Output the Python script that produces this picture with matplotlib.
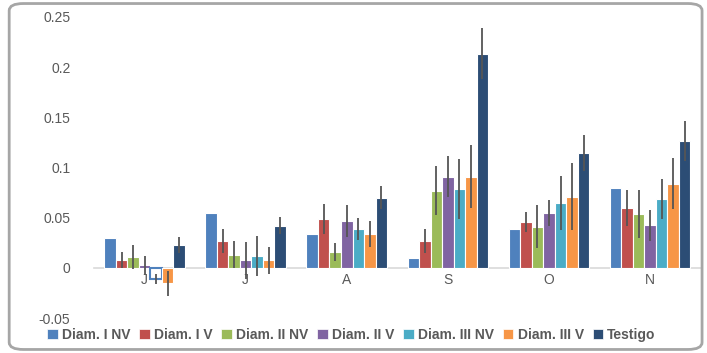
import numpy as np
import matplotlib.pyplot as plt
from matplotlib.patches import FancyBboxPatch, Patch

# months (category axis)
months = ['J', 'J', 'A', 'S', 'O', 'N']

series_names = ['Diam. I NV', 'Diam. I V', 'Diam. II NV', 'Diam. II V',
                'Diam. III NV', 'Diam. III V', 'Testigo']
colors = ['#4F81BD', '#C0504D', '#9BBB59', '#8064A2', '#4BACC6', '#F79646', '#2C4D75']

# values, one list per series
diam_i_nv = [0.030, 0.055, 0.034, 0.0095, 0.039, 0.0795]
diam_i_v = [0.0075, 0.027, 0.0486, 0.027, 0.046, 0.060]
diam_ii_nv = [0.011, 0.013, 0.0154, 0.077, 0.041, 0.0536]
diam_ii_v = [0.003, 0.0075, 0.0466, 0.091, 0.0546, 0.0423]
diam_iii_nv = [-0.011, 0.012, 0.039, 0.0785, 0.065, 0.069]
diam_iii_v = [-0.0155, 0.0075, 0.034, 0.091, 0.071, 0.0838]
testigo = [0.0224, 0.042, 0.070, 0.2133, 0.1147, 0.126]

# error bars (Diam. I NV has none)
err_i_nv = None
err_i_v = [0.008, 0.0118, 0.0153, 0.012, 0.010, 0.018]
err_ii_nv = [0.012, 0.0134, 0.009, 0.0243, 0.0214, 0.0236]
err_ii_v = [0.009, 0.0186, 0.016, 0.0204, 0.013, 0.0154]
err_iii_nv = [0.005, 0.020, 0.011, 0.030, 0.027, 0.020]
err_iii_v = [0.0128, 0.0136, 0.013, 0.0317, 0.033, 0.0254]
err_testigo = [0.008, 0.0083, 0.0118, 0.0256, 0.0178, 0.020]

values = [diam_i_nv, diam_i_v, diam_ii_nv, diam_ii_v, diam_iii_nv, diam_iii_v, testigo]
errors = [err_i_nv, err_i_v, err_ii_nv, err_ii_v, err_iii_nv, err_iii_v, err_testigo]

plt.rcParams['font.family'] = ['Liberation Sans', 'DejaVu Sans']
grey = '#595959'

fig = plt.figure(figsize=(7.07, 3.53), dpi=100)
ax = fig.add_axes([0.133, 0.099, 0.858, 0.853])

x = np.arange(len(months))
w = 0.114
for k, (vals, errs) in enumerate(zip(values, errors)):
    pos = x + (k - 3) * w
    bars = ax.bar(pos, vals, width=w, color=colors[k], edgecolor='white',
                  linewidth=0.8, zorder=2)
    # Excel "invert if negative" on Diam. III NV
    if k == 4:
        for b, v in zip(bars, vals):
            if v < 0:
                b.set_facecolor('white')
                b.set_edgecolor(colors[0])
                b.set_linewidth(1.5)
    if errs is not None:
        ax.errorbar(pos, vals, yerr=errs, fmt='none', ecolor='#555555',
                    elinewidth=1.3, capsize=0, zorder=3)

ax.set_xlim(-0.5, 5.5)
ax.set_ylim(-0.05, 0.25)
ax.set_yticks([-0.05, 0, 0.05, 0.1, 0.15, 0.2, 0.25])
ax.set_yticklabels(['-0.05', '0', '0.05', '0.1', '0.15', '0.2', '0.25'])
ax.set_xticks(x)
ax.set_xticklabels(months)

for s in ['left', 'right', 'top']:
    ax.spines[s].set_visible(False)
ax.spines['bottom'].set_position(('data', 0))
ax.spines['bottom'].set_color('#D9D9D9')
ax.spines['bottom'].set_linewidth(1.2)
ax.spines['bottom'].set_zorder(1)
ax.tick_params(axis='y', length=0, pad=17, labelsize=10, labelcolor=grey)
ax.tick_params(axis='x', length=0, pad=4, labelsize=10, labelcolor=grey)

handles = [Patch(facecolor=c, edgecolor='white', linewidth=0.5, label=n)
           for c, n in zip(colors, series_names)]
leg = fig.legend(handles=handles, loc='center', bbox_to_anchor=(0.497, 0.051), ncol=7,
                 frameon=False, handlelength=0.75, handleheight=0.75, handletextpad=0.3,
                 columnspacing=0.65, prop={'size': 10, 'weight': 'bold'})
for t in leg.get_texts():
    t.set_color(grey)

# outer chart border
border = FancyBboxPatch((0.013, 0.01), 0.98, 0.98, boxstyle='round,pad=0,rounding_size=0.02',
                        transform=fig.transFigure, fill=False, edgecolor='#A6A6A6',
                        linewidth=2.0)
fig.patches.append(border)

fig.savefig('out.png', dpi=100)
